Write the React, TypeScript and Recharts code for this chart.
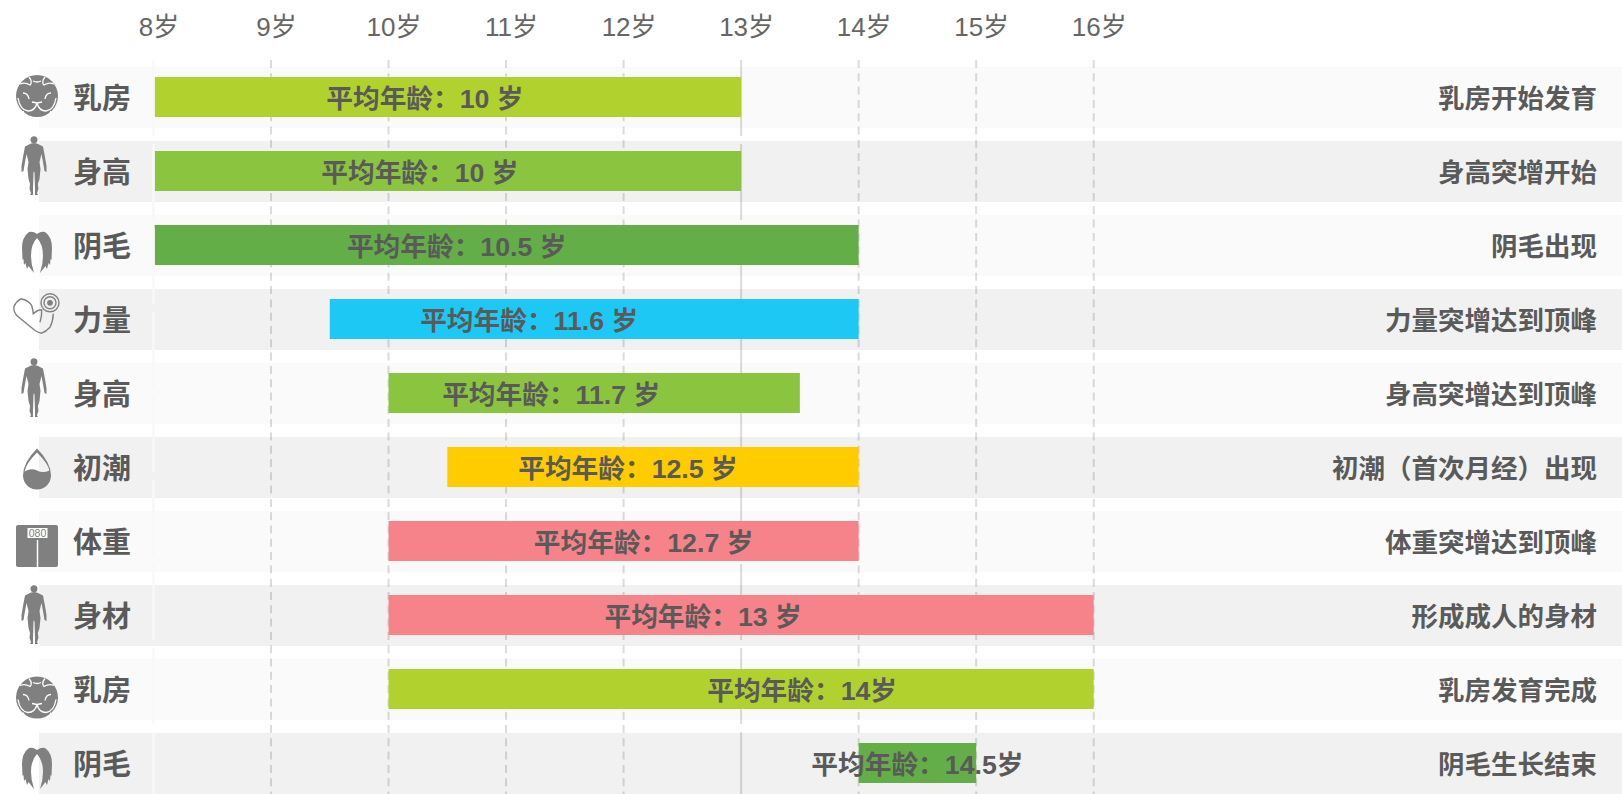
import { BarChart, Bar, XAxis, YAxis, CartesianGrid, Cell, LabelList, ReferenceLine } from 'recharts'

const FONT = '"Liberation Sans", "Noto Sans CJK SC", sans-serif'
const TEXT = '#5a5a5a'
const ICON = '#808080'
const GRID = '#dcdcdc'

const rowNames = ['乳房', '身高', '阴毛', '力量', '身高', '初潮', '体重', '身材', '乳房', '阴毛']
const rowIcons = ['breast', 'body', 'hair', 'arm', 'body', 'drop', 'scale', 'body', 'breast', 'hair']
const startAges = [8.01, 8.01, 8.01, 9.5, 10, 10.5, 10, 10, 10, 14]
const endAges = [13, 13, 14, 14, 13.5, 14, 14, 16, 16, 15]
const meanLabels = [
  '平均年龄：10 岁',
  '平均年龄：10 岁',
  '平均年龄：10.5 岁',
  '平均年龄：11.6 岁',
  '平均年龄：11.7 岁',
  '平均年龄：12.5 岁',
  '平均年龄：12.7 岁',
  '平均年龄：13 岁',
  '平均年龄：14岁',
  '平均年龄：14.5岁',
]
const milestones = [
  '乳房开始发育',
  '身高突增开始',
  '阴毛出现',
  '力量突增达到顶峰',
  '身高突增达到顶峰',
  '初潮（首次月经）出现',
  '体重突增达到顶峰',
  '形成成人的身材',
  '乳房发育完成',
  '阴毛生长结束',
]
const barColors = ['#b1d22e', '#8bc53f', '#63ae46', '#1ec8f5', '#8bc53f', '#ffcc00', '#f58389', '#f58389', '#b1d22e', '#63ae46']
const ageTicks = [8, 9, 10, 11, 12, 13, 14, 15, 16]
const dashedAges = [9, 10, 11, 12, 14, 15, 16]
const longDashAges = [13]

// the labels and icons are not centred on their rows in the original
const labelShift = [-23, -28, -50, -65, -43, -25, 20, -38, 61, 0]
const iconShiftX = [6, 3, 6, 6, 3, 6, 6, 3, 6, 6]
const iconShiftY = [-1, -6, 7, -5.5, -6, 1.5, 5, -1, 8.5, 5]

const AXIS_MIN = 7.026
const AXIS_MAX = 20.495

const rows = rowNames.map((name, i) => ({
  id: i,
  name,
  range: [startAges[i], endAges[i]],
  band: [AXIS_MIN, AXIS_MAX],
  mean: meanLabels[i],
  milestone: milestones[i],
}))

function RowIcon({ kind, cx, cy }: { kind: string; cx: number; cy: number }) {
  if (kind === 'breast') {
    return (
      <g transform={`translate(${cx},${cy})`}>
        <circle r={21} fill={ICON} />
        <path
          d="M-19 2 Q-17 14 -9 15 Q-2 15 0 7 Q2 15 9 15 Q17 14 19 2 M-14 -3 Q-9 -3 -8 3 M14 -3 Q9 -3 8 3 M-5 6 L0 7 L5 6 M-17 -12 Q-12 -14 -7 -11 Q-4 -14 -8 -19 M17 -12 Q12 -14 7 -11 Q4 -14 8 -19 M-4 -15 Q0 -13 4 -15 M-14 15 L-12 20 M14 15 L12 20"
          fill="none"
          stroke="#fff"
          strokeWidth={1.3}
        />
      </g>
    )
  }
  if (kind === 'body') {
    return (
      <g transform={`translate(${cx},${cy})`} fill={ICON}>
        <circle cy={-25.3} r={3.5} />
        <path d="M0 -22 L3 -21.5 L9 -18.5 L11 -8 L12.5 1 L12.5 7 L10.5 6 L9 -3 L7.5 -11 L5.5 -3 L6.5 4 L5.5 14 L4 19 L4.5 24 L3 28 L4 30 L1 30 L1 24 L0.5 8 L0 6 L-0.5 8 L-1 24 L-1 30 L-4 30 L-3 28 L-4.5 24 L-4 19 L-5.5 14 L-6.5 4 L-5.5 -3 L-7.5 -11 L-9 -3 L-10.5 6 L-12.5 7 L-12.5 1 L-11 -8 L-9 -18.5 L-3 -21.5 Z" />
      </g>
    )
  }
  if (kind === 'hair') {
    return (
      <g transform={`translate(${cx},${cy})`}>
        <path
          d="M0 -18 Q-4 -21 -8 -20 Q-15 -15 -15 -4 L-14.5 8 L-13.5 7 L-13 13 L-11.5 11 L-10 17 L-8.5 14 L-3 21 Q-6 12 -6 4 Q-6 -8 0 -14 Q6 -8 6 4 Q6 12 3 21 L8.5 14 L10 17 L11.5 11 L13 13 L13.5 7 L14.5 8 L15 -4 Q15 -15 8 -20 Q4 -21 0 -18 Z"
          fill={ICON}
        />
      </g>
    )
  }
  if (kind === 'arm') {
    return (
      <g transform={`translate(${cx},${cy})`} fill="none" stroke={ICON} strokeWidth={1.4}>
        <path d="M-16.3 -14.7 Q-8 -13 -5.3 -8 Q-4 -3 -3.7 0.3 Q1 -4 4.7 -3.7 M3 8.7 Q5 3 4.7 -3.7 M16.3 0.3 Q16 8 13 13.7 Q9 18 4.7 19.7 Q2 19.5 -2 17 L-20.3 2 Q-24 -3 -23 -7 Q-21 -12 -16.3 -14.7" />
        <circle cx={13} cy={-10.7} r={9} />
        <circle cx={13} cy={-10.7} r={6} />
        <circle cx={13} cy={-10.7} r={2.2} fill={ICON} />
      </g>
    )
  }
  if (kind === 'drop') {
    return (
      <g transform={`translate(${cx},${cy})`}>
        <path d="M0 -20 Q14 -6 14 7 A14 14 0 0 1 -14 7 Q-14 -6 0 -20 Z M0 -16 Q-11 -5 -12.4 3 Q-6 -1 0 2 Q6 5 12.4 2 Q11 -5 0 -16 Z" fill={ICON} fillRule="evenodd" />
      </g>
    )
  }
  return (
    <g transform={`translate(${cx},${cy})`}>
      <rect x={-21} y={-21} width={42} height={42} rx={2} fill={ICON} />
      <rect x={-9.5} y={-18} width={20} height={10} fill="#fff" />
      <text x={0.5} y={-9.5} textAnchor="middle" fontSize={10.5} fill={ICON} fontFamily={FONT}>
        080
      </text>
      <path d="M0.5 -6 V21" stroke="#fff" strokeWidth={1.5} fill="none" />
    </g>
  )
}

function RowTick({ x, y, payload, index }: any) {
  const i = payload?.index ?? index
  return (
    <g>
      <RowIcon kind={rowIcons[i]} cx={x + iconShiftX[i]} cy={y + iconShiftY[i]} />
      <text x={x + 42} y={y + 11.5} fontSize={29} fontWeight="bold" fill={TEXT} fontFamily={FONT}>
        {rows[i].name}
      </text>
    </g>
  )
}

function AgeTick({ x, y, payload }: any) {
  return (
    <text x={x + 5.5} y={y - 16} textAnchor="middle" fontSize={26} fill="#666" fontFamily={FONT}>
      {`${payload.value}岁`}
    </text>
  )
}

function MeanLabel({ x, y, width, height, index, value }: any) {
  return (
    <text
      x={x + width / 2 + labelShift[index]}
      y={y + height / 2 + 10.5}
      textAnchor="middle"
      fontSize={26.7}
      fontWeight="bold"
      fill={TEXT}
      fontFamily={FONT}
    >
      {value}
    </text>
  )
}

function MilestoneLabel({ x, y, width, height, value }: any) {
  return (
    <text
      x={x + width - 25}
      y={y + height / 2 + 10}
      textAnchor="end"
      fontSize={26.5}
      fontWeight="bold"
      fill={TEXT}
      fontFamily={FONT}
    >
      {value}
    </text>
  )
}

export default function App() {
  return (
    <div style={{ position: 'fixed', left: 0, top: 0, width: 1622, height: 794, overflow: 'hidden', background: '#fff' }}>
      <BarChart
        layout="vertical"
        width={1622}
        height={810}
        data={rows}
        margin={{ top: 0, right: 0, bottom: 10, left: 0 }}
        barCategoryGap={0}
      >
        <XAxis
          type="number"
          orientation="top"
          domain={[AXIS_MIN, AXIS_MAX]}
          ticks={ageTicks}
          height={60}
          axisLine={false}
          tickLine={false}
          tick={<AgeTick />}
          allowDataOverflow
          interval={0}
        />
        <YAxis yAxisId="rows" type="category" dataKey="id" width={39} axisLine={false} tickLine={false} tick={<RowTick />} interval={0} />
        <YAxis yAxisId="bands" type="category" dataKey="id" orientation="right" width={0} hide />
        <CartesianGrid horizontal={false} verticalValues={dashedAges} stroke={GRID} strokeWidth={2} strokeDasharray="8 5.3" />
        <CartesianGrid horizontal={false} verticalValues={longDashAges} stroke={GRID} strokeWidth={2} strokeDasharray="76 8" />
        {/* bands are see-through so the grid stays visible under them */}
        <Bar yAxisId="bands" dataKey="band" barSize={61} isAnimationActive={false}>
          {rows.map((r) => (
            <Cell key={r.id} fill="#000" fillOpacity={r.id % 2 === 0 ? 0.0196 : 0.055} />
          ))}
          <LabelList dataKey="milestone" content={<MilestoneLabel />} />
        </Bar>
        <ReferenceLine yAxisId="rows" x={8} stroke="#f8f8f8" strokeWidth={2.5} strokeDasharray="76 8" />
        <Bar yAxisId="rows" dataKey="range" barSize={40} isAnimationActive={false}>
          {rows.map((r) => (
            <Cell key={r.id} fill={barColors[r.id]} />
          ))}
          <LabelList dataKey="mean" content={<MeanLabel />} />
        </Bar>
      </BarChart>
    </div>
  )
}
